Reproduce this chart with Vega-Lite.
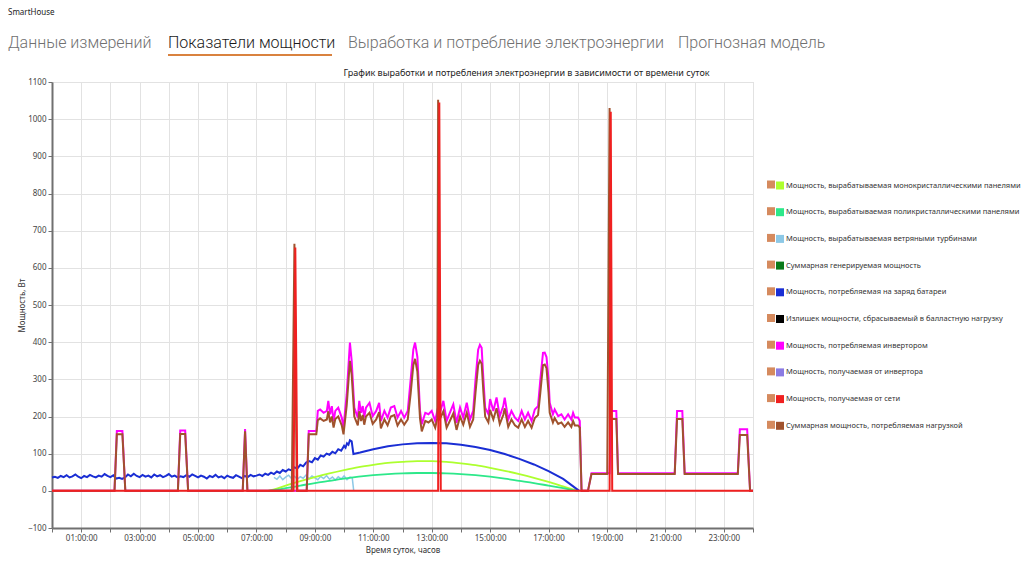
{
 "$schema": "https://vega.github.io/schema/vega-lite/v6.json",
 "background": "white",
 "padding": {"left": 8, "top": 9, "right": 2, "bottom": 2},
 "bounds": "flush",
 "spacing": 28,
 "title": {"text": "SmartHouse", "anchor": "start", "fontSize": 8, "fontWeight": "normal", "color": "#222222", "offset": 18},
 "datasets": {
  "gen": [
   {"t":7.4,"mono":0,"poly":0},{"t":7.7,"mono":6,"poly":3},{"t":8.0,"mono":14,"poly":7},{"t":8.5,"mono":26,"poly":14},{"t":9.0,"mono":37,"poly":21},{"t":9.5,"mono":47,"poly":27},{"t":10.0,"mono":56,"poly":33},{"t":10.5,"mono":64,"poly":38},{"t":11.0,"mono":70,"poly":42},{"t":11.5,"mono":75,"poly":45},{"t":12.0,"mono":78,"poly":47},{"t":12.5,"mono":80,"poly":48},{"t":13.0,"mono":80,"poly":48},{"t":13.5,"mono":78,"poly":47},{"t":14.0,"mono":74,"poly":45},{"t":14.5,"mono":69,"poly":42},{"t":15.0,"mono":62,"poly":38},{"t":15.5,"mono":54,"poly":33},{"t":16.0,"mono":45,"poly":27},{"t":16.5,"mono":35,"poly":21},{"t":17.0,"mono":24,"poly":14},{"t":17.5,"mono":12,"poly":7},{"t":18.0,"mono":0,"poly":0}
  ],
  "wind": [
   {"t":7.6,"wind":36},{"t":7.7,"wind":31},{"t":7.8,"wind":40},{"t":7.9,"wind":30},{"t":8.0,"wind":37},{"t":8.1,"wind":42},{"t":8.2,"wind":33},{"t":8.3,"wind":39},{"t":8.4,"wind":31},{"t":8.5,"wind":38},{"t":8.6,"wind":34},{"t":8.7,"wind":43},{"t":8.8,"wind":32},{"t":8.9,"wind":40},{"t":9.0,"wind":35},{"t":9.1,"wind":30},{"t":9.2,"wind":39},{"t":9.3,"wind":33},{"t":9.4,"wind":41},{"t":9.5,"wind":31},{"t":9.6,"wind":37},{"t":9.7,"wind":29},{"t":9.8,"wind":38},{"t":9.9,"wind":32},{"t":10.0,"wind":40},{"t":10.1,"wind":30},{"t":10.2,"wind":37},{"t":10.28,"wind":35},{"t":10.33,"wind":0}
  ],
  "bat": [
   {"t":0,"bat":36},{"t":0.1,"bat":38},{"t":0.2,"bat":35},{"t":0.3,"bat":40},{"t":0.4,"bat":37},{"t":0.5,"bat":42},{"t":0.6,"bat":36},{"t":0.7,"bat":39},{"t":0.8,"bat":44},{"t":0.9,"bat":38},
   {"t":1.0,"bat":34},{"t":1.1,"bat":40},{"t":1.2,"bat":37},{"t":1.3,"bat":43},{"t":1.4,"bat":39},{"t":1.5,"bat":36},{"t":1.6,"bat":41},{"t":1.7,"bat":38},{"t":1.8,"bat":45},{"t":1.9,"bat":40},
   {"t":2.0,"bat":37},{"t":2.1,"bat":42},{"t":2.2,"bat":33},{"t":2.3,"bat":35},{"t":2.4,"bat":32},{"t":2.5,"bat":36},{"t":2.6,"bat":44},{"t":2.7,"bat":39},{"t":2.8,"bat":46},{"t":2.9,"bat":40},
   {"t":3.0,"bat":37},{"t":3.1,"bat":43},{"t":3.2,"bat":38},{"t":3.3,"bat":41},{"t":3.4,"bat":36},{"t":3.5,"bat":44},{"t":3.6,"bat":39},{"t":3.7,"bat":42},{"t":3.8,"bat":37},{"t":3.9,"bat":40},
   {"t":4.0,"bat":45},{"t":4.1,"bat":38},{"t":4.2,"bat":41},{"t":4.3,"bat":36},{"t":4.4,"bat":39},{"t":4.5,"bat":37},{"t":4.6,"bat":42},{"t":4.7,"bat":38},{"t":4.8,"bat":44},{"t":4.9,"bat":40},
   {"t":5.0,"bat":36},{"t":5.1,"bat":41},{"t":5.2,"bat":38},{"t":5.3,"bat":33},{"t":5.4,"bat":40},{"t":5.5,"bat":37},{"t":5.6,"bat":43},{"t":5.7,"bat":36},{"t":5.8,"bat":39},{"t":5.9,"bat":34},
   {"t":6.0,"bat":41},{"t":6.1,"bat":37},{"t":6.2,"bat":35},{"t":6.3,"bat":42},{"t":6.4,"bat":38},{"t":6.5,"bat":34},{"t":6.6,"bat":40},{"t":6.7,"bat":37},{"t":6.8,"bat":43},{"t":6.9,"bat":39},
   {"t":7.0,"bat":41},{"t":7.1,"bat":44},{"t":7.2,"bat":40},{"t":7.3,"bat":46},{"t":7.4,"bat":43},{"t":7.5,"bat":49},{"t":7.6,"bat":45},{"t":7.7,"bat":52},{"t":7.8,"bat":48},{"t":7.9,"bat":56},
   {"t":8.0,"bat":52},{"t":8.1,"bat":58},{"t":8.2,"bat":55},{"t":8.3,"bat":63},{"t":8.4,"bat":60},{"t":8.5,"bat":70},{"t":8.6,"bat":66},{"t":8.7,"bat":76},{"t":8.8,"bat":80},{"t":8.9,"bat":77},
   {"t":9.0,"bat":88},{"t":9.1,"bat":84},{"t":9.2,"bat":95},{"t":9.3,"bat":92},{"t":9.4,"bat":100},{"t":9.5,"bat":97},{"t":9.6,"bat":105},{"t":9.7,"bat":101},{"t":9.8,"bat":112},{"t":9.9,"bat":108},
   {"t":10.0,"bat":121},{"t":10.05,"bat":116},{"t":10.1,"bat":128},{"t":10.15,"bat":124},{"t":10.2,"bat":136},{"t":10.26,"bat":133},{"t":10.32,"bat":99},
   {"t":10.55,"bat":103},{"t":11.0,"bat":112},{"t":11.5,"bat":120},{"t":12.0,"bat":125},{"t":12.5,"bat":128},{"t":13.0,"bat":129},{"t":13.5,"bat":128},{"t":14.0,"bat":124},{"t":14.5,"bat":118},{"t":15.0,"bat":110},{"t":15.5,"bat":99},{"t":16.0,"bat":86},{"t":16.5,"bat":71},{"t":17.0,"bat":53},{"t":17.5,"bat":32},{"t":18.05,"bat":0}
  ],
  "load": [
   {"t":0,"inv":0,"load":0},{"t":2.14,"inv":0,"load":0},{"t":2.22,"inv":161,"load":152},{"t":2.41,"inv":161,"load":152},{"t":2.51,"inv":0,"load":0},
   {"t":4.31,"inv":0,"load":0},{"t":4.39,"inv":162,"load":153},{"t":4.56,"inv":162,"load":153},{"t":4.66,"inv":0,"load":0},
   {"t":6.53,"inv":0,"load":0},{"t":6.61,"inv":166,"load":160},{"t":6.69,"inv":0,"load":0},
   {"t":8.21,"inv":0,"load":0},{"t":8.30,"inv":0,"load":665},{"t":8.38,"inv":0,"load":0},
   {"t":8.72,"inv":0,"load":0},{"t":8.79,"inv":161,"load":152},{"t":9.05,"inv":161,"load":152},
   {"t":9.10,"inv":215,"load":190},{"t":9.18,"inv":219,"load":195},{"t":9.30,"inv":210,"load":188},{"t":9.41,"inv":215,"load":192},{"t":9.46,"inv":242,"load":214},{"t":9.52,"inv":206,"load":184},{"t":9.58,"inv":228,"load":200},{"t":9.64,"inv":188,"load":170},{"t":9.70,"inv":215,"load":193},{"t":9.80,"inv":224,"load":200},{"t":9.92,"inv":197,"load":176},{"t":9.98,"inv":170,"load":152},
   {"t":10.09,"inv":260,"load":230},{"t":10.20,"inv":399,"load":350},{"t":10.26,"inv":350,"load":312},{"t":10.35,"inv":224,"load":200},{"t":10.47,"inv":197,"load":176},{"t":10.52,"inv":242,"load":214},{"t":10.58,"inv":210,"load":188},{"t":10.64,"inv":228,"load":204},{"t":10.69,"inv":197,"load":178},{"t":10.75,"inv":224,"load":200},{"t":10.87,"inv":237,"load":210},{"t":10.98,"inv":201,"load":180},
   {"t":11.10,"inv":215,"load":192},{"t":11.20,"inv":237,"load":212},{"t":11.26,"inv":188,"load":168},{"t":11.38,"inv":215,"load":192},{"t":11.49,"inv":197,"load":176},{"t":11.60,"inv":224,"load":200},{"t":11.72,"inv":228,"load":204},{"t":11.83,"inv":197,"load":176},{"t":11.95,"inv":215,"load":192},
   {"t":12.06,"inv":197,"load":178},{"t":12.18,"inv":215,"load":192},{"t":12.28,"inv":300,"load":262},{"t":12.37,"inv":380,"load":338},{"t":12.43,"inv":399,"load":355},{"t":12.51,"inv":360,"load":320},{"t":12.60,"inv":215,"load":194},{"t":12.66,"inv":179,"load":160},{"t":12.78,"inv":210,"load":188},{"t":12.89,"inv":206,"load":184},
   {"t":13.00,"inv":215,"load":192},{"t":13.12,"inv":188,"load":170},{"t":13.19,"inv":215,"load":195},{"t":13.22,"inv":210,"load":1052},{"t":13.26,"inv":205,"load":190},{"t":13.40,"inv":242,"load":214},{"t":13.51,"inv":188,"load":170},{"t":13.62,"inv":210,"load":188},{"t":13.74,"inv":233,"load":208},{"t":13.85,"inv":183,"load":164},{"t":13.97,"inv":224,"load":200},
   {"t":14.08,"inv":197,"load":178},{"t":14.20,"inv":237,"load":210},{"t":14.31,"inv":192,"load":172},{"t":14.42,"inv":215,"load":192},{"t":14.50,"inv":300,"load":265},{"t":14.59,"inv":380,"load":338},{"t":14.65,"inv":393,"load":350},{"t":14.71,"inv":385,"load":342},{"t":14.77,"inv":300,"load":265},{"t":14.83,"inv":224,"load":200},{"t":14.94,"inv":206,"load":184},
   {"t":15.00,"inv":247,"load":218},{"t":15.11,"inv":215,"load":192},{"t":15.22,"inv":251,"load":222},{"t":15.33,"inv":201,"load":180},{"t":15.45,"inv":228,"load":204},{"t":15.50,"inv":251,"load":222},{"t":15.62,"inv":192,"load":172},{"t":15.73,"inv":215,"load":192},{"t":15.85,"inv":197,"load":176},{"t":15.96,"inv":188,"load":170},
   {"t":16.08,"inv":215,"load":192},{"t":16.19,"inv":192,"load":172},{"t":16.30,"inv":210,"load":188},{"t":16.42,"inv":188,"load":170},{"t":16.53,"inv":219,"load":196},{"t":16.64,"inv":228,"load":204},{"t":16.72,"inv":300,"load":265},{"t":16.81,"inv":371,"load":338},{"t":16.87,"inv":372,"load":340},{"t":16.93,"inv":360,"load":330},
   {"t":17.00,"inv":300,"load":265},{"t":17.04,"inv":237,"load":210},{"t":17.15,"inv":206,"load":184},{"t":17.21,"inv":219,"load":196},{"t":17.33,"inv":201,"load":180},{"t":17.44,"inv":206,"load":184},{"t":17.55,"inv":192,"load":172},{"t":17.67,"inv":206,"load":184},{"t":17.78,"inv":192,"load":172},{"t":17.84,"inv":210,"load":188},{"t":17.90,"inv":197,"load":176},
   {"t":18.01,"inv":197,"load":176},{"t":18.07,"inv":188,"load":170},{"t":18.13,"inv":0,"load":0},{"t":18.35,"inv":0,"load":0},{"t":18.47,"inv":47,"load":45},
   {"t":19.01,"inv":47,"load":45},{"t":19.09,"inv":47,"load":1030},{"t":19.14,"inv":215,"load":193},{"t":19.32,"inv":215,"load":193},{"t":19.38,"inv":47,"load":45},
   {"t":21.32,"inv":47,"load":45},{"t":21.40,"inv":215,"load":193},{"t":21.58,"inv":215,"load":193},{"t":21.66,"inv":47,"load":45},
   {"t":23.48,"inv":47,"load":45},{"t":23.55,"inv":166,"load":150},{"t":23.80,"inv":166,"load":150},{"t":23.90,"inv":0,"load":0},{"t":24,"inv":0,"load":0}
  ],
  "grid": [
   {"t":0,"grid":0},{"t":8.27,"grid":0},{"t":8.33,"grid":655},{"t":8.40,"grid":0},{"t":13.22,"grid":0},{"t":13.26,"grid":1045},{"t":13.31,"grid":0},{"t":19.09,"grid":0},{"t":19.13,"grid":1020},{"t":19.18,"grid":0},{"t":24,"grid":0}
  ],
  "boxes": [
   {"c":"c01"},{"c":"c02"},{"c":"c03"},{"c":"c04"},{"c":"c05"},{"c":"c06"},{"c":"c07"},{"c":"c08"},{"c":"c09"},{"c":"c10"}
  ]
 },
 "vconcat": [
  {
   "bounds": "flush",
   "spacing": 16,
   "hconcat": [
    {"width": 100, "height": 2, "data": {"values": [{"k": 1}]}, "mark": {"type": "rect", "opacity": 0},
     "title": {"text": "Данные измерений", "anchor": "start", "dx": -44, "color": "#707070", "font": "Roboto", "fontSize": 16, "fontWeight": 300, "offset": 3}},
    {"width": 164, "height": 2, "data": {"values": [{"k": 1}]}, "mark": {"type": "rect", "color": "#D9823F"},
     "title": {"text": "Показатели мощности", "anchor": "start", "color": "#1a1a1a", "font": "Roboto", "fontSize": 16, "fontWeight": 300, "offset": 3}},
    {"width": 314, "height": 2, "data": {"values": [{"k": 1}]}, "mark": {"type": "rect", "opacity": 0},
     "title": {"text": "Выработка и потребление электроэнергии", "anchor": "start", "color": "#707070", "font": "Roboto", "fontSize": 16, "fontWeight": 300, "offset": 3}},
    {"width": 147, "height": 2, "data": {"values": [{"k": 1}]}, "mark": {"type": "rect", "opacity": 0},
     "title": {"text": "Прогнозная модель", "anchor": "start", "color": "#707070", "font": "Roboto", "fontSize": 16, "fontWeight": 300, "offset": 3}}
   ]
  },
  {
   "width": 701,
   "height": 446,
   "title": {"text": "График выработки и потребления электроэнергии в зависимости от времени суток", "fontSize": 9, "fontWeight": "normal", "color": "#222222", "anchor": "middle", "frame": "group", "dx": 124, "offset": 0},
   "encoding": {
    "x": {"field": "t", "type": "quantitative", "title": "Время суток, часов",
      "scale": {"domain": [0, 24], "nice": false, "zero": false},
      "axis": {"values": [0,1,2,3,4,5,6,7,8,9,10,11,12,13,14,15,16,17,18,19,20,21,22,23,24],
        "labelExpr": "datum.value % 2 == 1 ? (datum.value < 10 ? '0' : '') + datum.value + ':00:00' : ''",
        "labelOverlap": false, "labelFlush": false, "tickSize": 4, "labelPadding": 2, "titlePadding": 4}},
    "y": {"field": "v", "type": "quantitative", "title": "Мощность, Вт",
      "scale": {"domain": [-100, 1100], "nice": false, "zero": false},
      "axis": {"values": [-100,0,100,200,300,400,500,600,700,800,900,1000,1100], "format": "d", "tickSize": 4, "labelPadding": 2, "titlePadding": 1}}
   },
   "layer": [
    {
     "data": {"name": "wind"},
     "transform": [{"fold": ["wind"], "as": ["s", "v"]}],
     "mark": {"type": "line", "strokeWidth": 1.5},
     "encoding": {
      "color": {"field": "s", "type": "nominal",
       "scale": {
        "domain": ["mono","poly","wind","gen","bat","ballast","inv","frominv","grid","load"],
        "range": ["#ADFF2F","#2DE88A","#8CC8E6","#0A7A1A","#1A2ED4","#000000","#FF00FF","#8B7BE3","#F02020","#A0522D"]
       },
       "legend": {
        "orient": "none", "legendX": 724, "legendY": 127.5, "title": null,
        "symbolType": "square", "symbolSize": 16, "symbolStrokeWidth": 4,
        "labelFontSize": 7.5, "labelColor": "#333333", "labelLimit": 400, "rowPadding": 6.7, "labelOffset": 2, "padding": 0,
        "labelExpr": "datum.value=='mono'?'Мощность, вырабатываемая монокристаллическими панелями':datum.value=='poly'?'Мощность, вырабатываемая поликристаллическими панелями':datum.value=='wind'?'Мощность, вырабатываемая ветряными турбинами':datum.value=='gen'?'Суммарная генерируемая мощность':datum.value=='bat'?'Мощность, потребляемая на заряд батареи':datum.value=='ballast'?'Излишек мощности, сбрасываемый в балластную нагрузку':datum.value=='inv'?'Мощность, потребляемая инвертором':datum.value=='frominv'?'Мощность, получаемая от инвертора':datum.value=='grid'?'Мощность, получаемая от сети':'Суммарная мощность, потребляемая нагрузкой'"
       }
      }
     }
    },
    {
     "data": {"name": "gen"},
     "transform": [{"fold": ["mono", "poly"], "as": ["s", "v"]}],
     "mark": {"type": "line", "strokeWidth": 1.8, "interpolate": "monotone"},
     "encoding": {"color": {"field": "s", "type": "nominal"}}
    },
    {
     "data": {"name": "bat"},
     "transform": [{"fold": ["bat"], "as": ["s", "v"]}],
     "mark": {"type": "line", "strokeWidth": 2},
     "encoding": {"color": {"field": "s", "type": "nominal"}}
    },
    {
     "data": {"name": "load"},
     "transform": [{"fold": ["inv", "load"], "as": ["s", "v"]}],
     "mark": {"type": "line", "strokeWidth": 2},
     "encoding": {"color": {"field": "s", "type": "nominal"}}
    },
    {
     "data": {"name": "grid"},
     "transform": [{"fold": ["grid"], "as": ["s", "v"]}],
     "mark": {"type": "line", "strokeWidth": 2},
     "encoding": {"color": {"field": "s", "type": "nominal"}}
    },
    {
     "data": {"name": "boxes"},
     "mark": {"type": "point", "filled": true, "opacity": 0, "color": "#D58A5E"},
     "encoding": {
      "shape": {"field": "c", "type": "nominal",
       "scale": {"domain": ["c01","c02","c03","c04","c05","c06","c07","c08","c09","c10"], "range": ["square","square","square","square","square","square","square","square","square","square"]},
       "legend": {"orient": "none", "legendX": 715, "legendY": 126.5, "title": null, "symbolSize": 64, "symbolFillColor": "#D58A5E", "symbolStrokeColor": "#D58A5E", "symbolStrokeWidth": 0, "labelExpr": "''", "labelFontSize": 8, "rowPadding": 18.7, "padding": 0}
      }
     }
    }
   ]
  }
 ],
 "config": {
  "font": "Noto Sans",
  "view": {"stroke": "#d0d0d0", "strokeWidth": 1},
  "axis": {"labelFontSize": 8, "titleFontSize": 8, "titleFontWeight": "normal", "labelColor": "#444444", "titleColor": "#333333", "gridColor": "#e2e2e2", "domainColor": "#707070", "domainWidth": 2, "tickColor": "#707070"}
 }
}
